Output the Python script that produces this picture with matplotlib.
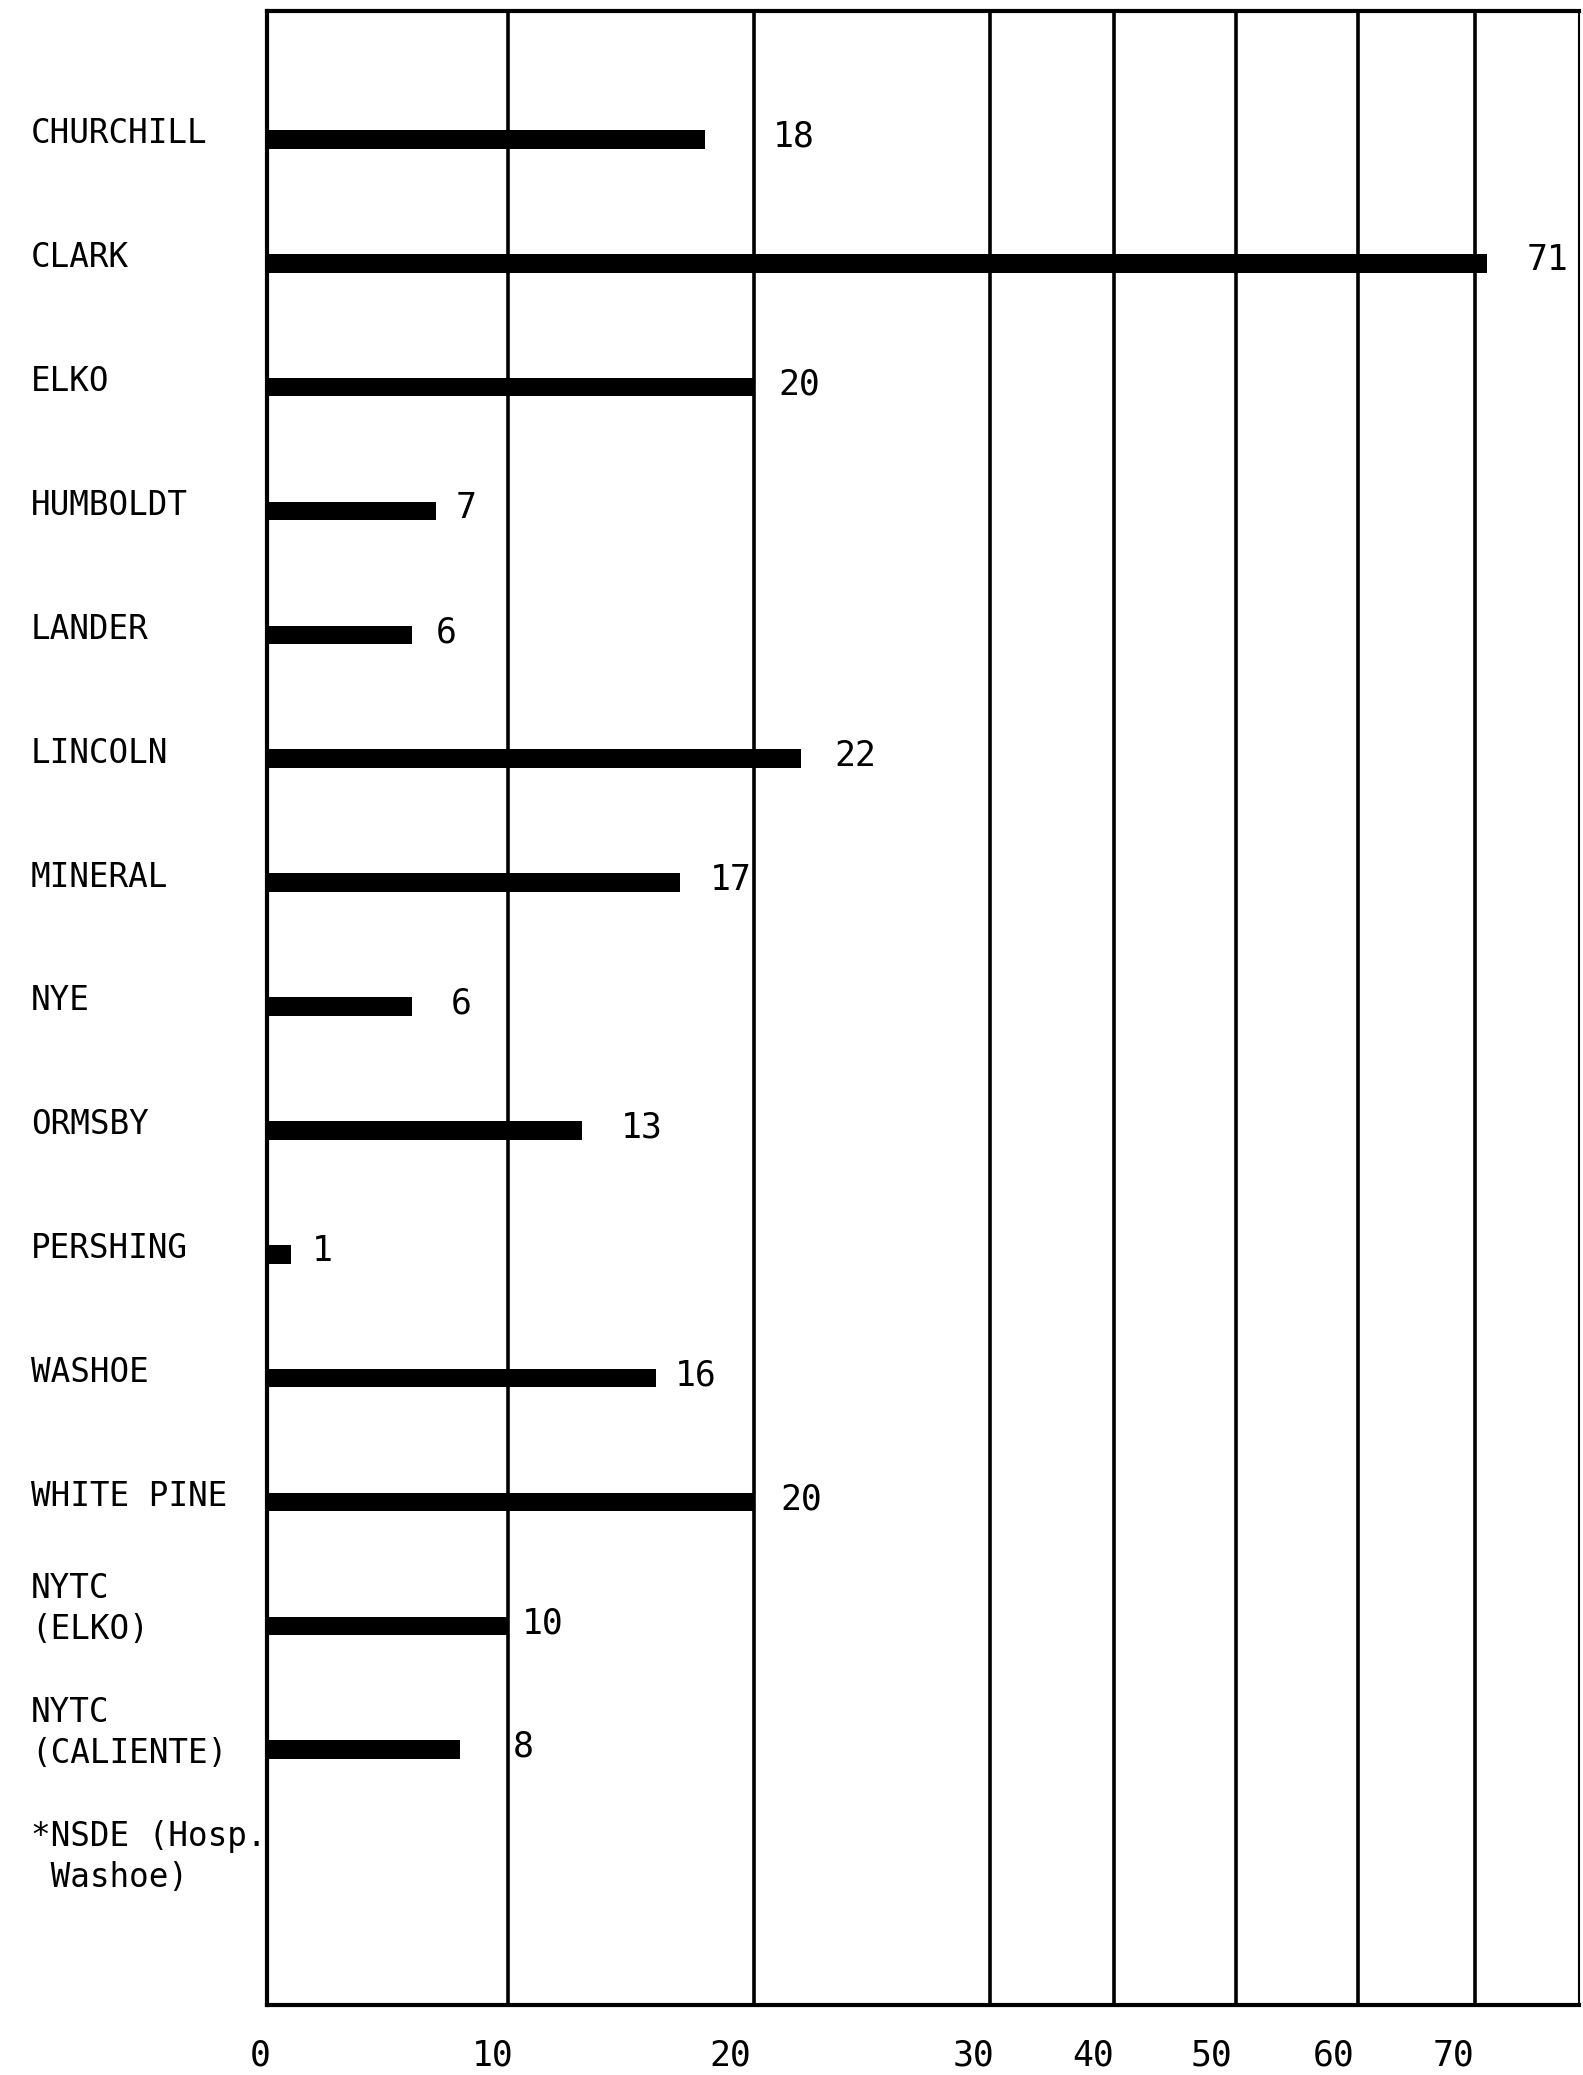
import numpy as np
import matplotlib
matplotlib.use('Agg')
import matplotlib.pyplot as plt
import matplotlib.transforms as mtransforms

counties = ['CHURCHILL', 'CLARK', 'ELKO', 'HUMBOLDT', 'LANDER', 'LINCOLN',
            'MINERAL', 'NYE', 'ORMSBY', 'PERSHING', 'WASHOE', 'WHITE PINE',
            'NYTC\n(ELKO)', 'NYTC\n(CALIENTE)', '*NSDE (Hosp.\n Washoe)']
counts = [18, 71, 20, 7, 6, 22, 17, 6, 13, 1, 16, 20, 10, 8, None]
tick_values = [0, 10, 20, 30, 40, 50, 60, 70]

# the printed scale is wider between 0 and 30 than above it
scale_values = [0, 10, 20, 30, 40, 50, 60, 70, 80]
scale_pos = [0, 182, 368, 546, 640, 732, 824, 913, 1003]

# gap (points) between the bar end and its number, as typed on the sheet
label_gap = [49, 28, 17, 14, 17, 24, 21, 28, 28, 15, 14, 19, 10, 38]
# typed tick numbers sit a little left of their rules (points)
tick_shift = [-5, -11, -17, -12, -15, -18, -17, -16]

FONT = 'DejaVu Sans Mono'


def forward(x):
    return np.interp(x, scale_values, scale_pos)


def inverse(p):
    return np.interp(p, scale_pos, scale_values)


'''
plot_chart():
    horizontal bars on a stretched scale, saved to out.png
'''


def plot_chart(out_path='out.png'):
    fig = plt.figure(figsize=(15.83, 20.75), dpi=100)
    ax = fig.add_axes([0.1689, 0.0338, 0.8286, 0.9611])
    ax.set_xscale('function', functions=(forward, inverse))
    ax.set_xlim(0, 78.7)
    ax.set_ylim(15.06, -1.04)

    rows = np.arange(len(counties))
    for i, v in enumerate(counts):
        if v is None:
            continue
        ax.barh(rows[i], v, height=0.15, color='black', left=0)
        ax.annotate(str(v), (v, rows[i]), xytext=(label_gap[i], 2),
                    textcoords='offset points', ha='left', va='center',
                    fontsize=25, family=FONT, color='black')

    # county names on the left margin
    trans = mtransforms.blended_transform_factory(fig.transFigure, ax.transData)
    for i, name in enumerate(counties):
        n = name.count('\n')
        off = mtransforms.ScaledTranslation(0, (4 + n * 8) / 72, fig.dpi_scale_trans)
        ax.text(0.0195, rows[i], name, transform=trans + off, ha='left',
                va='center', fontsize=23.5, family=FONT, linespacing=1.32,
                color='black')

    ax.set_xticks(tick_values)
    ax.set_xticklabels([str(t) for t in tick_values], fontsize=25, family=FONT)
    ax.tick_params(axis='x', length=0, pad=24)
    for lab, dx in zip(ax.get_xticklabels(), tick_shift):
        shift = mtransforms.ScaledTranslation(dx / 72, 0, fig.dpi_scale_trans)
        lab.set_transform(lab.get_transform() + shift)
    ax.set_yticks([])

    ax.grid(axis='x', color='black', linewidth=2.6)
    ax.set_axisbelow(False)
    for side in ['left', 'top', 'bottom']:
        ax.spines[side].set_linewidth(3)
    ax.spines['right'].set_linewidth(1.5)

    fig.savefig(out_path, dpi=100, facecolor='white')


plot_chart()
